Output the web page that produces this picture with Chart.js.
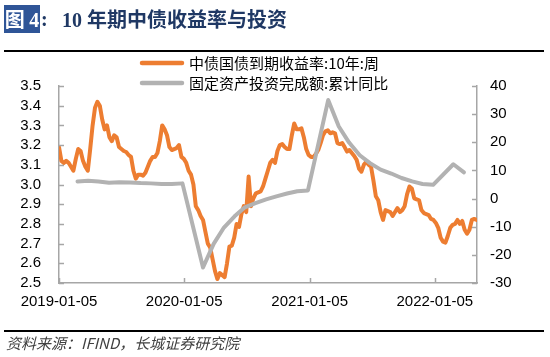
<!DOCTYPE html>
<html><head><meta charset="utf-8">
<script src="https://cdn.jsdelivr.net/npm/chart.js@4.4.1/dist/chart.umd.min.js"></script>
<style>
html,body{margin:0;padding:0;background:#fff;width:550px;height:357px;overflow:hidden;}
#wrap{position:relative;width:550px;height:357px;}
canvas{position:absolute;left:0;top:0;}
#tbox{position:absolute;left:4px;top:5px;width:36px;height:28px;background:#2f5597;color:#fff;font:bold 20px "Noto Sans CJK SC","Liberation Serif",serif;line-height:28px;text-align:center;white-space:nowrap;}
#tbox .n{font-family:"Liberation Serif",serif;}
#tcolon{position:absolute;left:41px;top:5px;height:28px;color:#1f3864;font:bold 20px "Liberation Serif",serif;line-height:28px;}
#ttext{position:absolute;left:62px;top:5px;height:28px;color:#1f3864;font:bold 20px "Liberation Serif","Noto Sans CJK SC",serif;line-height:28px;white-space:nowrap;}
#ttext .cjk{font-family:"Noto Sans CJK SC",sans-serif;}
.rule{position:absolute;left:4px;width:540px;background:#000;}
#src{position:absolute;left:6px;top:334px;font:italic 15px "Noto Sans CJK SC",sans-serif;color:#404040;line-height:18px;white-space:nowrap;}
</style></head>
<body><div id="wrap">
<canvas id="c" width="550" height="357"></canvas>
<div id="tbox">图 <span class="n">4</span></div>
<div id="tcolon">:</div>
<div id="ttext">10 <span class="cjk">年期中债收益率与投资</span></div>
<div class="rule" style="top:50px;height:2px;"></div>
<div class="rule" style="top:330px;height:2px;"></div>
<div id="src">资料来源：IFIND，长城证券研究院</div>
</div>
<script>
const seriesNames = ['中债国债到期收益率:10年:周', '固定资产投资完成额:累计同比'];
const xTickLabels = ['2019-01-05', '2020-01-05', '2021-01-05', '2022-01-05'];
const yieldStart = '2019-01-05';
const yieldValues = [
3.19,3.12,3.11,3.12,3.11,3.09,3.07,3.13,3.18,3.17,
3.12,3.09,3.07,3.18,3.30,3.39,3.42,3.40,3.33,3.28,
3.30,3.24,3.22,3.25,3.24,3.19,3.18,3.17,3.165,3.15,
3.14,3.07,3.03,3.05,3.05,3.045,3.06,3.09,3.12,3.14,
3.14,3.16,3.22,3.30,3.28,3.25,3.19,3.175,3.18,3.185,
3.20,3.14,3.13,3.11,3.07,3.05,3.00,2.89,2.87,2.84,
2.82,2.76,2.70,2.68,2.62,2.56,2.52,2.55,2.54,2.53,
2.60,2.685,2.69,2.73,2.80,2.785,2.85,2.89,2.86,3.04,
2.89,2.93,2.955,2.96,2.965,2.99,3.03,3.07,3.11,3.125,
3.11,3.17,3.20,3.205,3.19,3.18,3.18,3.25,3.31,3.28,
3.28,3.285,3.24,3.18,3.15,3.14,3.14,3.155,3.175,3.21,
3.25,3.27,3.275,3.26,3.265,3.26,3.21,3.205,3.21,3.19,
3.167,3.175,3.16,3.145,3.125,3.08,3.065,3.10,3.115,3.10,
3.09,3.02,2.94,2.92,2.86,2.82,2.87,2.865,2.86,2.84,
2.86,2.88,2.86,2.87,2.89,2.95,2.99,2.98,2.93,2.925,
2.92,2.87,2.855,2.85,2.845,2.825,2.82,2.805,2.78,2.73,
2.71,2.705,2.74,2.78,2.795,2.80,2.82,2.80,2.815,2.77,
2.75,2.77,2.82,2.825,2.82];
const faiDates = [
'2019-02-28','2019-03-31','2019-04-30','2019-05-31','2019-06-30','2019-07-31','2019-08-31','2019-09-30','2019-10-31','2019-11-30','2019-12-31',
'2020-02-29','2020-03-31','2020-04-30','2020-05-31','2020-06-30','2020-07-31','2020-08-31','2020-09-30','2020-10-31','2020-11-30','2020-12-31',
'2021-02-28','2021-03-31','2021-04-30','2021-05-31','2021-06-30','2021-07-31','2021-08-31','2021-09-30','2021-10-31','2021-11-30','2021-12-31',
'2022-02-28','2022-03-31'];
const faiValues = [
6.1,6.3,6.1,5.6,5.8,5.7,5.5,5.4,5.2,5.2,5.4,
-24.5,-16.1,-10.3,-6.3,-3.1,-1.6,-0.3,0.8,1.8,2.6,2.9,
35.0,25.6,19.9,15.4,12.6,10.3,8.9,7.3,6.1,5.2,4.9,
12.2,9.3];

const DAY = 86400000;
function dayOf(s){const p=s.split('-').map(Number);return Math.round((Date.UTC(p[0],p[1]-1,p[2])-Date.UTC(2019,0,5))/DAY);}
const yieldPoints = yieldValues.map((v,i)=>({x:dayOf(yieldStart)+7*i,y:v}));
const faiPoints = faiDates.map((d,i)=>({x:dayOf(d),y:faiValues[i]}));

const AXIS = '#A6A6A6';
const COLORS = ['#ED7D31', '#B2B2B2'];
const tickFont = {family:'"Liberation Sans", Arial, sans-serif', size:15};

const inwardTicks = {
  id:'inwardTicks',
  afterDatasetsDraw(chart){
    const {ctx, chartArea:a, scales} = chart;
    ctx.save(); ctx.strokeStyle = AXIS; ctx.lineWidth = 1.5; ctx.beginPath();
    scales.y.ticks.forEach(t=>{const p=Math.round(scales.y.getPixelForValue(t.value))+0.5;ctx.moveTo(a.left,p);ctx.lineTo(a.left+5,p);});
    scales.y1.ticks.forEach(t=>{const p=Math.round(scales.y1.getPixelForValue(t.value))+0.5;ctx.moveTo(a.right,p);ctx.lineTo(a.right-5,p);});
    scales.x.ticks.forEach(t=>{const p=Math.round(scales.x.getPixelForValue(t.value))+0.5;ctx.moveTo(p,a.bottom);ctx.lineTo(p,a.bottom-5);});
    ctx.stroke(); ctx.restore();
  }
};
const customLegend = {
  id:'customLegend',
  afterDraw(chart){
    const {ctx, chartArea:a} = chart;
    ctx.save();
    chart.data.datasets.forEach((ds,i)=>{
      const y = a.top - 23 + i*20;
      const x0 = a.left + 83;
      ctx.strokeStyle = ds.borderColor; ctx.lineWidth = 4.5; ctx.lineCap = 'round';
      ctx.beginPath(); ctx.moveTo(x0, y); ctx.lineTo(x0+40, y); ctx.stroke();
      ctx.fillStyle = '#000'; ctx.font = '15px "Noto Sans CJK SC", sans-serif';
      ctx.textBaseline = 'middle'; ctx.textAlign = 'left';
      ctx.fillText(ds.label, x0 + 47, y);
    });
    ctx.restore();
  }
};

new Chart(document.getElementById('c'), {
  type:'line',
  data:{datasets:[
    {label:seriesNames[0], data:yieldPoints, yAxisID:'y', borderColor:COLORS[0], borderWidth:4, pointRadius:0, order:2, tension:0, borderJoinStyle:'round', borderCapStyle:'round'},
    {label:seriesNames[1], data:faiPoints, yAxisID:'y1', borderColor:COLORS[1], borderWidth:4, pointRadius:0, order:1, tension:0, borderJoinStyle:'round', borderCapStyle:'round'}
  ]},
  options:{
    responsive:false, animation:false, devicePixelRatio:1,
    layout:{padding:{top:86, left:0, right:0, bottom:0}},
    plugins:{legend:{display:false}, tooltip:{enabled:false}},
    scales:{
      x:{type:'linear', min:0, max:1219,
        afterBuildTicks:s=>{s.ticks = xTickLabels.map(l=>({value:dayOf(l)}));},
        ticks:{autoSkip:false, maxRotation:0, padding:10, color:'#000', font:tickFont,
          callback:(v)=>{const k=xTickLabels.findIndex(l=>dayOf(l)===v);return k>=0?xTickLabels[k]:'';}},
        grid:{display:false, drawTicks:false},
        border:{display:true, color:AXIS, width:1.5},
        afterFit:s=>{s.height = 74;}
      },
      y:{position:'left', min:2.5, max:3.5,
        ticks:{stepSize:0.1, autoSkip:false, padding:18, color:'#000', font:tickFont, callback:v=>Number(v).toFixed(1)},
        grid:{display:false, drawTicks:false},
        border:{display:true, color:AXIS, width:1.5},
        afterFit:s=>{s.width = 59;}
      },
      y1:{position:'right', min:-30, max:40,
        ticks:{stepSize:10, autoSkip:false, padding:13, color:'#000', font:tickFont},
        grid:{display:false, drawTicks:false},
        border:{display:true, color:AXIS, width:1.5},
        afterFit:s=>{s.width = 73;}
      }
    }
  },
  plugins:[inwardTicks, customLegend]
});
</script>
</body></html>
